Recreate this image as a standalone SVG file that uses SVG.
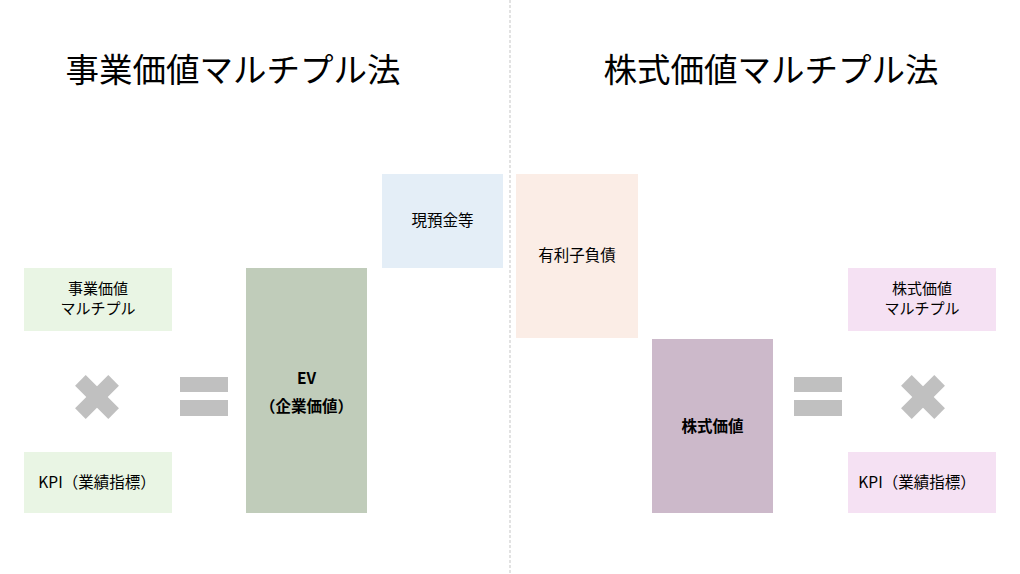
<svg xmlns="http://www.w3.org/2000/svg" width="1020" height="574" viewBox="0 0 1020 574">
<defs>
<style>
text{font-family:"Noto Sans CJK JP","Noto Sans",sans-serif;fill:#000;text-anchor:middle}
.title{font-size:33.5px}
.lbl{font-size:15.5px}
.lbl2{font-size:15px}
.bold{font-size:15.5px;font-weight:bold}
.mark{fill:#C0C0C0}
</style>
<g id="xmark"><rect class="mark" x="-23.5" y="-7.5" width="47" height="15" transform="rotate(45)"/><rect class="mark" x="-23.5" y="-7.5" width="47" height="15" transform="rotate(-45)"/></g>
<g id="eq"><rect class="mark" x="0" y="0" width="48" height="15"/><rect class="mark" x="0" y="23" width="48" height="16"/></g>
</defs>
<rect width="1020" height="574" fill="#fff"/>
<g id="connectors">
<line x1="510" y1="0" x2="510" y2="574" stroke="#D9D9D9" stroke-width="1.5" stroke-dasharray="3,2"/>
</g>
<g id="title-left"><text class="title" x="233" y="82">事業価値マルチプル法</text></g>
<g id="title-right"><text class="title" x="771" y="82">株式価値マルチプル法</text></g>
<g id="ev-multiple"><rect x="24" y="268" width="148" height="63" fill="#E9F5E4"/><text class="lbl2" x="98" y="294">事業価値</text><text class="lbl2" x="98" y="314">マルチプル</text></g>
<g id="kpi-left"><rect x="24" y="452" width="148" height="61" fill="#E9F5E4"/><text class="lbl" x="97" y="488">KPI（業績指標）</text></g>
<g id="times-left"><use href="#xmark" transform="translate(97,397)"/></g>
<g id="equals-left"><use href="#eq" transform="translate(180,377)"/></g>
<g id="ev"><rect x="246" y="268" width="121" height="245" fill="#C0CCBA"/><text class="bold" x="306.5" y="384">EV</text><text class="bold" x="306.5" y="412">（企業価値）</text></g>
<g id="cash"><rect x="382" y="174" width="121" height="94" fill="#E4EEF7"/><text class="lbl" x="442.5" y="226">現預金等</text></g>
<g id="debt"><rect x="516" y="174" width="122" height="164" fill="#FBEDE6"/><text class="lbl" x="577" y="261">有利子負債</text></g>
<g id="equity"><rect x="652" y="339" width="121" height="174" fill="#CCB9CA"/><text class="bold" x="712.5" y="432">株式価値</text></g>
<g id="equals-right"><use href="#eq" transform="translate(794,377)"/></g>
<g id="times-right"><use href="#xmark" transform="translate(923,397)"/></g>
<g id="equity-multiple"><rect x="848" y="268" width="148" height="63" fill="#F5E1F3"/><text class="lbl2" x="922" y="294">株式価値</text><text class="lbl2" x="922" y="314">マルチプル</text></g>
<g id="kpi-right"><rect x="848" y="452" width="148" height="61" fill="#F5E1F3"/><text class="lbl" x="917" y="488">KPI（業績指標）</text></g>
</svg>
